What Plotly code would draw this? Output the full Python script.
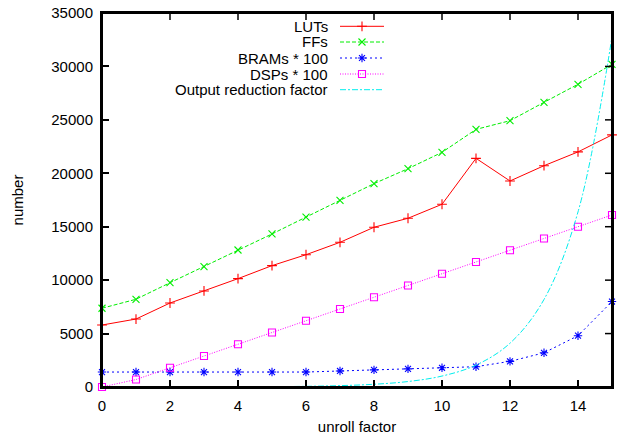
import plotly.graph_objects as go

unroll = list(range(16))
luts = [5800, 6360, 7860, 8990, 10140, 11360, 12380, 13540, 14950, 15790,
        17100, 21400, 19280, 20710, 22000, 23590]
ffs = [7370, 8210, 9760, 11260, 12820, 14320, 15900, 17470, 19030, 20430,
       21960, 24110, 24920, 26640, 28330, 30200]
brams100 = [1400, 1400, 1400, 1400, 1400, 1400, 1400, 1500, 1600, 1700,
            1800, 1900, 2400, 3200, 4800, 8000]
dsps100 = [0, 700, 1800, 2900, 4000, 5100, 6200, 7300, 8400, 9500,
           10600, 11700, 12800, 13900, 15000, 16100]
out_red = [1, 2, 4, 8, 16, 32, 64, 128, 256, 512,
           1024, 2048, 4096, 8192, 16384, 32768]
x_ticks = [0, 2, 4, 6, 8, 10, 12, 14]
y_ticks = [0, 5000, 10000, 15000, 20000, 25000, 30000, 35000]

names = ["LUTs", "FFs", "BRAMs * 100", "DSPs * 100", "Output reduction factor"]
series = [luts, ffs, brams100, dsps100, out_red]
colors = ["#ff0000", "#00ee00", "#0000ff", "#ff00ff", "#00eeee"]
dashes = ["solid", "4px,2px", "2px,3px", "1px,1.5px", "6px,2px,2px,2px"]
symbols = ["cross-thin-open", "x-thin-open", "asterisk-open", "square-open", None]

XMAX, YMAX = 15, 35000
FONT = "Liberation Sans, Arial, sans-serif"
FS = 15
fig = go.Figure()

for name, ys, c, d, s in zip(names, series, colors, dashes, symbols):
    if s is None:
        fig.add_trace(go.Scatter(x=unroll, y=ys, mode="lines", name=name,
                                 line=dict(color=c, width=1, dash=d, shape="spline"),
                                 showlegend=False))
    else:
        fig.add_trace(go.Scatter(x=unroll, y=ys, mode="lines+markers", name=name,
                                 line=dict(color=c, width=1, dash=d),
                                 marker=dict(symbol=s, size=7, color=c,
                                             line=dict(color=c, width=1.1)),
                                 cliponaxis=False, showlegend=False))

# gnuplot-style key (text on the left, sample on the right), placed by plot-area fraction
L = dict(l=102, r=8, t=13, b=50)
pw, ph = 620 - L["l"] - L["r"], 437 - L["t"] - L["b"]
row_px = [26.3, 42, 58, 74, 89.7]
fx0, fx1, fxm = (340 - 102) / pw, (384 - 102) / pw, (362 - 102) / pw
ftext = (329 - 102) / pw
for i, (name, c, d, s) in enumerate(zip(names, colors, dashes, symbols)):
    fy = (387 - row_px[i]) / ph
    fig.add_trace(go.Scatter(x=[fx0 * XMAX, fx1 * XMAX], y=[fy * YMAX, fy * YMAX],
                             mode="lines", line=dict(color=c, width=1, dash=d),
                             showlegend=False, hoverinfo="skip"))
    if s is not None:
        fig.add_trace(go.Scatter(x=[fxm * XMAX], y=[fy * YMAX], mode="markers",
                                 marker=dict(symbol=s, size=7, color=c,
                                             line=dict(color=c, width=1.1)),
                                 showlegend=False, hoverinfo="skip"))
    fig.add_annotation(x=ftext, y=fy, xref="x domain", yref="y domain", text=name,
                       showarrow=False, xanchor="right", yanchor="middle",
                       borderpad=0,
                       font=dict(family=FONT, size=FS, color="black"))

# plot border (gnuplot box)
fig.add_shape(type="rect", xref="paper", yref="paper", x0=0, x1=1, y0=0, y1=1,
              line=dict(color="black", width=2), layer="above")

# mirrored inward ticks on the top and right edges, at the axis tick values
TL = 7
for xv in x_ticks:
    fig.add_shape(type="line", xref="x", yref="paper", x0=xv, x1=xv,
                  y0=1, y1=1 - TL / ph, line=dict(color="black", width=1.5), layer="above")
for yv in y_ticks:
    fig.add_shape(type="line", xref="paper", yref="y", x0=1, x1=1 - TL / pw,
                  y0=yv, y1=yv, line=dict(color="black", width=1.5), layer="above")

axis_common = dict(showline=True, linecolor="black", linewidth=2, mirror=True,
                   ticks="inside", ticklen=TL, tickwidth=1.5, tickcolor="black",
                   showgrid=False, zeroline=False,
                   automargin=False,
                   tickfont=dict(family=FONT, size=FS, color="black"))

fig.update_layout(
    width=620, height=437, margin=L,
    paper_bgcolor="white", plot_bgcolor="white",
    xaxis=dict(range=[0, XMAX], tickmode="array", tickvals=x_ticks, ticklabelstandoff=4,
               title=dict(text="unroll factor", standoff=8,
                          font=dict(family=FONT, size=FS, color="black")),
               **axis_common),
    yaxis=dict(range=[0, YMAX], tickmode="array", tickvals=y_ticks,
               ticktext=[str(v) for v in y_ticks], ticklabelstandoff=4,
               title=dict(text="number", standoff=24,
                          font=dict(family=FONT, size=FS, color="black")),
               **axis_common),
    showlegend=False,
)

fig.write_html("out.html", config={"displayModeBar": False},
               post_script="document.body.style.margin='0';")
